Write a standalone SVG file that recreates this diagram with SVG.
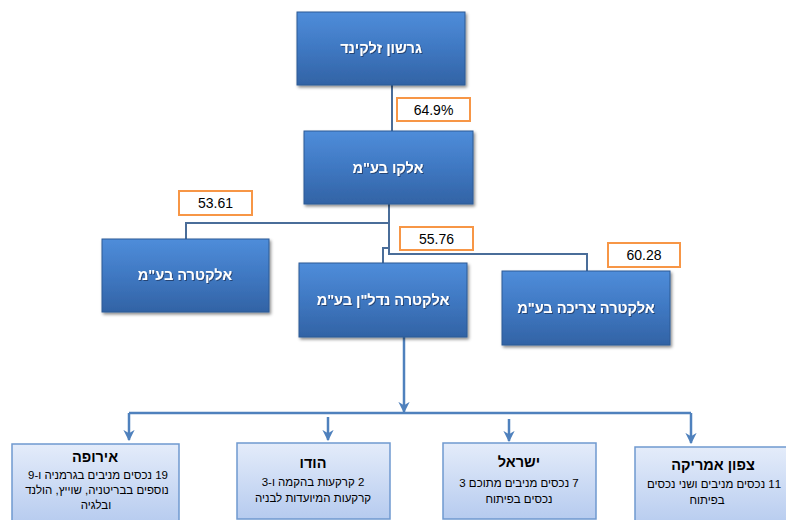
<svg xmlns="http://www.w3.org/2000/svg" width="786" height="520" viewBox="0 0 786 520">
<defs>
<linearGradient id="dark" x1="0" y1="0" x2="0" y2="1">
<stop offset="0" stop-color="#4f8dda"/>
<stop offset="0.5" stop-color="#3f78c2"/>
<stop offset="1" stop-color="#3263a5"/>
</linearGradient>
<linearGradient id="light" x1="0" y1="0" x2="0" y2="1">
<stop offset="0" stop-color="#e4ecfa"/>
<stop offset="1" stop-color="#b6cbef"/>
</linearGradient>
<filter id="sh" x="-10%" y="-10%" width="125%" height="130%">
<feDropShadow dx="1.5" dy="2" stdDeviation="1.5" flood-color="#000" flood-opacity="0.45"/>
</filter>
<filter id="tsh" x="-10%" y="-30%" width="120%" height="160%">
<feDropShadow dx="1" dy="1" stdDeviation="0.6" flood-color="#1a2f55" flood-opacity="0.7"/>
</filter>
<marker id="arr" viewBox="0 0 10 10" refX="9" refY="5" markerWidth="4.5" markerHeight="4.5" orient="auto">
<path d="M0,0 L10,5 L0,10 L3,5 Z" fill="#4f81bd"/>
</marker>
</defs>
<style>
.dk{fill:url(#dark);stroke:#2d5a95;stroke-width:1;filter:url(#sh)}
.lt{fill:url(#light);stroke:#6f99cf;stroke-width:1.5}
.pc{fill:#fff;stroke:#f79646;stroke-width:2}
.nt{font-family:"Liberation Sans",Arial,sans-serif;font-weight:bold;font-size:14.5px;fill:#fff;text-anchor:middle;filter:url(#tsh)}
.pt{font-family:"Liberation Sans",Arial,sans-serif;font-size:14px;fill:#000;text-anchor:middle}
.bt{font-family:"Liberation Sans",Arial,sans-serif;font-weight:bold;font-size:14.5px;fill:#000;text-anchor:middle}
.st{font-family:"Liberation Sans",Arial,sans-serif;font-size:11.5px;fill:#000;text-anchor:middle}
.up{fill:none;stroke:#4a6d99;stroke-width:2}
.lo{fill:none;stroke:#4f81bd;stroke-width:2.5}
</style>
<g id="connectors">
<path class="up" d="M392,85 V131"/>
<path class="up" d="M389,204 V254 H587 V271"/>
<path class="up" d="M389,223 H186 V239"/>
<path class="up" d="M389,248 H383 V263"/>
<path class="lo" d="M404,337 V412" marker-end="url(#arr)"/>
<path class="lo" d="M129,413 H691"/>
<path class="lo" d="M129,413 V440" marker-end="url(#arr)"/>
<path class="lo" d="M328,417 V440" marker-end="url(#arr)"/>
<path class="lo" d="M509,419 V441" marker-end="url(#arr)"/>
<path class="lo" d="M691,413 V443" marker-end="url(#arr)"/>
</g>
<g id="label-64">
<rect class="pc" x="397" y="98" width="73" height="23"/>
<text class="pt" x="433.5" y="114.5">64.9%</text>
</g>
<g id="label-53">
<rect class="pc" x="179" y="191" width="73" height="24"/>
<text class="pt" x="215.5" y="208">53.61</text>
</g>
<g id="label-55">
<rect class="pc" x="400" y="227" width="73" height="23"/>
<text class="pt" x="436.5" y="243.5">55.76</text>
</g>
<g id="label-60">
<rect class="pc" x="608" y="243" width="72" height="24"/>
<text class="pt" x="644" y="260">60.28</text>
</g>
<g id="node-zelkind">
<rect class="dk" x="297" y="12" width="168" height="73"/>
<text class="nt" x="381" y="53" direction="rtl">גרשון זלקינד</text>
</g>
<g id="node-elco">
<rect class="dk" x="304" y="131" width="169" height="73"/>
<text class="nt" x="388" y="173" direction="rtl">אלקו בע"מ</text>
</g>
<g id="node-electra">
<rect class="dk" x="102" y="239" width="167" height="73"/>
<text class="nt" x="185" y="280" direction="rtl">אלקטרה בע"מ</text>
</g>
<g id="node-electra-nadlan">
<rect class="dk" x="299" y="263" width="168" height="74"/>
<text class="nt" x="383" y="305" direction="rtl">אלקטרה נדל"ן בע"מ</text>
</g>
<g id="node-electra-consumer">
<rect class="dk" x="502" y="271" width="168" height="74"/>
<text class="nt" x="586" y="313" direction="rtl">אלקטרה צריכה בע"מ</text>
</g>
<g id="node-europe">
<rect class="lt" x="12" y="444" width="167" height="80"/>
<text class="bt" x="95" y="462" direction="rtl">אירופה</text>
<text class="st" x="98" y="479" direction="rtl">19 נכסים מניבים בגרמניה ו-9</text>
<text class="st" x="97" y="494" direction="rtl">נוספים בבריטניה, שוייץ, הולנד</text>
<text class="st" x="96" y="509" direction="rtl">ובלגיה</text>
</g>
<g id="node-india">
<rect class="lt" x="237" y="443" width="153" height="76"/>
<text class="bt" x="313" y="468" direction="rtl">הודו</text>
<text class="st" x="313" y="486" direction="rtl">2 קרקעות בהקמה ו-3</text>
<text class="st" x="313" y="502" direction="rtl">קרקעות המיועדות לבניה</text>
</g>
<g id="node-israel">
<rect class="lt" x="443" y="443" width="153" height="76"/>
<text class="bt" x="519" y="467" direction="rtl">ישראל</text>
<text class="st" x="519" y="487" direction="rtl">7 נכסים מניבים מתוכם 3</text>
<text class="st" x="519" y="503" direction="rtl">נכסים בפיתוח</text>
</g>
<g id="node-north-america">
<rect class="lt" x="635" y="447" width="160" height="80"/>
<text class="bt" x="713" y="470" direction="rtl">צפון אמריקה</text>
<text class="st" x="714" y="488" direction="rtl">11 נכסים מניבים ושני נכסים</text>
<text class="st" x="707" y="504" direction="rtl">בפיתוח</text>
</g>
</svg>
